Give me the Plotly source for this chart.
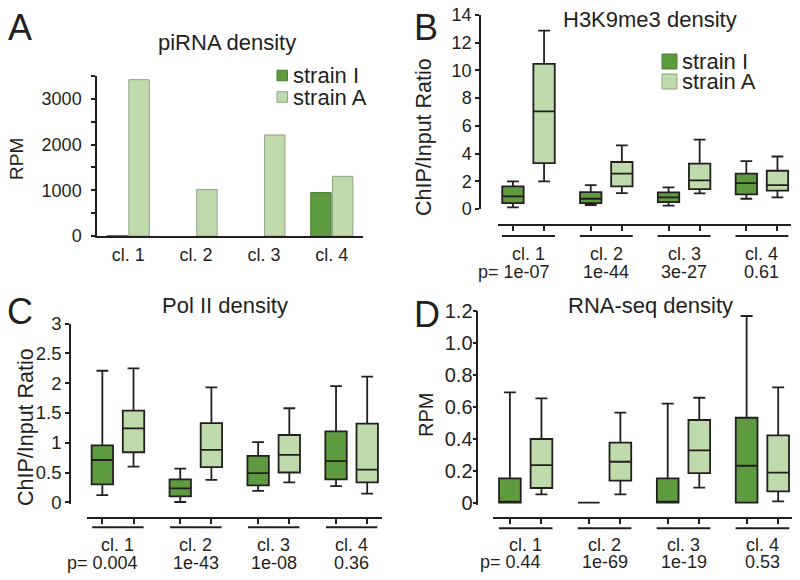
import plotly.graph_objects as go

W, H = 800, 580

# ---------------- data ----------------
clusters = ["cl. 1", "cl. 2", "cl. 3", "cl. 4"]
strain_names = ["strain I", "strain A"]

# Panel A: piRNA density (RPM)
pirna_I = [12, 0, 0, 950]
pirna_A = [3420, 1015, 2210, 1305]

# Panel B: H3K9me3 density (ChIP/Input ratio), box statistics
h3_I_low = [0.12, 0.29, 0.24, 0.74]
h3_I_q1 = [0.43, 0.43, 0.50, 1.06]
h3_I_med = [0.91, 0.74, 0.84, 1.87]
h3_I_q3 = [1.63, 1.22, 1.20, 2.55]
h3_I_high = [1.99, 1.73, 1.56, 3.46]
h3_A_low = [1.99, 1.15, 1.13, 0.84]
h3_A_q1 = [3.31, 1.63, 1.44, 1.32]
h3_A_med = [7.04, 2.55, 2.07, 1.73]
h3_A_q3 = [10.47, 3.39, 3.27, 2.76]
h3_A_high = [12.87, 4.59, 5.00, 3.79]
h3_p = ["1e-07", "1e-44", "3e-27", "0.61"]

# Panel C: Pol II density (ChIP/Input ratio)
pol_I_low = [0.12, 0.005, 0.19, 0.27]
pol_I_q1 = [0.30, 0.10, 0.285, 0.386]
pol_I_med = [0.71, 0.235, 0.49, 0.69]
pol_I_q3 = [0.957, 0.386, 0.78, 1.19]
pol_I_high = [2.21, 0.565, 1.01, 1.95]
pol_A_low = [0.60, 0.375, 0.335, 0.145]
pol_A_q1 = [0.84, 0.59, 0.50, 0.335]
pol_A_med = [1.24, 0.88, 0.795, 0.55]
pol_A_q3 = [1.54, 1.33, 1.13, 1.32]
pol_A_high = [2.25, 1.93, 1.58, 2.11]
pol_p = ["0.004", "1e-43", "1e-08", "0.36"]

# Panel D: RNA-seq density (RPM)
rna_I_low = [0, 0, 0, 0]
rna_I_q1 = [0, 0, 0, 0]
rna_I_med = [0, 0, 0, 0.231]
rna_I_q3 = [0.152, 0, 0.152, 0.531]
rna_I_high = [0.69, 0, 0.619, 1.167]
rna_A_low = [0.052, 0.052, 0.094, 0.008]
rna_A_q1 = [0.092, 0.1375, 0.185, 0.071]
rna_A_med = [0.235, 0.256, 0.327, 0.1875]
rna_A_q3 = [0.398, 0.375, 0.517, 0.421]
rna_A_high = [0.652, 0.5625, 0.656, 0.721]
rna_p = ["0.44", "1e-69", "1e-19", "0.53"]

# ---------------- style ----------------
FONT = "Liberation Sans, Arial, Helvetica, sans-serif"
INK = "#231f20"
DARK = "#5e9b3f"
LIGHT = "#bfdaab"
DARK_EDGE = "#4c7f33"
LIGHT_EDGE = "#8fa386"
BOX_OFFSET = 0.2     # half distance between the two boxes of a cluster (category units)
BOX_WIDTH = 0.275

def px(x):
    return x / W

def py(y):
    return 1 - y / H

idx = list(range(len(clusters)))
box_offsets = [-BOX_OFFSET, BOX_OFFSET]

fig = go.Figure()

# ---- Panel A bars (no outline drawn for empty bars) ----
for name, vals, col, edge in ((strain_names[0], pirna_I, DARK, DARK_EDGE),
                              (strain_names[1], pirna_A, LIGHT, LIGHT_EDGE)):
    fig.add_trace(go.Bar(x=clusters, y=vals, name=name,
                         marker=dict(color=col, line=dict(color=edge, width=[1 if v > 0 else 0 for v in vals])),
                         xaxis="x", yaxis="y", showlegend=False, hoverinfo="skip"))

def add_boxes(xa, ya, statsI, statsA):
    for name, st, col, off in ((strain_names[0], statsI, DARK, box_offsets[0]),
                               (strain_names[1], statsA, LIGHT, box_offsets[1])):
        low, q1, med, q3, high = st
        fig.add_trace(go.Box(x=[i + off for i in idx], lowerfence=low, q1=q1, median=med, q3=q3,
                             upperfence=high, width=BOX_WIDTH,
                             name=name, fillcolor=col,
                             line=dict(color=INK, width=1.8), whiskerwidth=0.55,
                             boxpoints=False, showlegend=False, xaxis=xa, yaxis=ya,
                             hoverinfo="skip"))

add_boxes("x2", "y2", (h3_I_low, h3_I_q1, h3_I_med, h3_I_q3, h3_I_high),
          (h3_A_low, h3_A_q1, h3_A_med, h3_A_q3, h3_A_high))
add_boxes("x3", "y3", (pol_I_low, pol_I_q1, pol_I_med, pol_I_q3, pol_I_high),
          (pol_A_low, pol_A_q1, pol_A_med, pol_A_q3, pol_A_high))
add_boxes("x4", "y4", (rna_I_low, rna_I_q1, rna_I_med, rna_I_q3, rna_I_high),
          (rna_A_low, rna_A_q1, rna_A_med, rna_A_q3, rna_A_high))

def yax(rng, top, bottom, xpos, fs, standoff=0, **kw):
    d = dict(range=rng, domain=[py(bottom), py(top)], anchor="free", position=px(xpos),
             showline=True, linecolor=INK, linewidth=1.5, ticks="outside", ticklen=4,
             tickwidth=1.5, tickcolor=INK, tickfont=dict(size=fs, color=INK, family=FONT),
             ticklabelstandoff=standoff, automargin=False,
             showgrid=False, zeroline=False, fixedrange=True)
    d.update(kw)
    return d

def xax(left, right, rng, liney):
    tv = sorted(i + o for i in idx for o in box_offsets)
    return dict(domain=[px(left), px(right)], range=rng, anchor="free", position=py(liney),
                showline=True, linecolor=INK, linewidth=2, ticks="outside", ticklen=5,
                tickwidth=1.5, tickcolor=INK, tickvals=tv, showticklabels=False,
                automargin=False, showgrid=False, zeroline=False, fixedrange=True)

layout = dict(
    width=W, height=H, margin=dict(l=0, r=0, t=0, b=0, pad=0, autoexpand=False),
    paper_bgcolor="white", plot_bgcolor="white",
    font=dict(family=FONT, color=INK),
    barmode="group", bargap=0.36, bargroupgap=0.06,
    boxmode="overlay",
    showlegend=False,
)

# Panel A axes
layout["xaxis"] = dict(domain=[px(97), px(363)], range=[-0.46, 3.46], anchor="y", showline=True,
                       linecolor=INK, linewidth=1.5, ticks="", tickfont=dict(size=18, color=INK),
                       ticklabelstandoff=2,
                       automargin=False, showgrid=False, zeroline=False, fixedrange=True)
layout["yaxis"] = yax([0, 3500], 76, 236, 97, 18, standoff=6, anchor="x", dtick=1000, tick0=0,
                      minor=dict(dtick=500, tick0=0, ticks="outside", ticklen=4, tickwidth=1.5, tickcolor=INK))
del layout["yaxis"]["position"]

# Panel B
layout["xaxis2"] = xax(498, 791, [-0.392, 3.374], 225)
layout["yaxis2"] = yax([0, 14], 15, 209, 480, 18, dtick=2, tick0=0)
# Panel C
layout["xaxis3"] = xax(87, 382, [-0.397, 3.39], 517.7)
layout["yaxis3"] = yax([-0.034, 3], 323.7, 504.3, 70, 18.5, tickvals=[0, 0.5, 1, 1.5, 2, 2.5, 3],
                       ticktext=["0", "0.5", "1", "1.5", "2", "2.5", "3"])
# Panel D
layout["xaxis4"] = xax(493, 792, [-0.414, 3.375], 518.3)
layout["yaxis4"] = yax([-0.0125, 1.2], 310.7, 504.7, 477.3, 20, standoff=-4,
                       tickvals=[0, 0.2, 0.4, 0.6, 0.8, 1.0, 1.2],
                       ticktext=["0", "0.2", "0.4", "0.6", "0.8", "1.0", "1.2"])

fig.update_layout(**layout)

ann = []
shapes = []

def text(x, y, s, size, xref="paper", **kw):
    d = dict(x=x, y=y, xref=xref, yref="paper", text=s, showarrow=False,
             font=dict(size=size, color=INK, family=FONT), xanchor="center", yanchor="middle")
    d.update(kw)
    ann.append(d)

# panel letters
for letter, x, y in (("A", 20, 28), ("B", 426, 27), ("C", 20, 311), ("D", 427, 314)):
    text(px(x), py(y), letter, 36)

# titles
text(px(227), py(42), "piRNA density", 22)
text(px(650), py(19), "H3K9me3 density", 22)
text(px(225), py(305), "Pol II density", 22)
text(px(650), py(305), "RNA-seq density", 22)

# y axis titles
text(px(17), py(159), "RPM", 19, textangle=-90)
text(px(424), py(137), "ChIP/Input Ratio", 21.5, textangle=-90)
text(px(26), py(427), "ChIP/Input Ratio", 21.5, textangle=-90)
text(px(426), py(415), "RPM", 20, textangle=-90)

CW = {"0": .556, "1": .556, "2": .556, "3": .556, "4": .556, "5": .556, "6": .556,
      "7": .556, "8": .556, "9": .556, "e": .556, "-": .333, ".": .278}

def width(s, size):
    return sum(CW.get(c, .556) for c in s) * size

# cluster labels, underlines
def bottom(xa, ulY, clY, pY, pvals, half=0.34, fs=18):
    for i, c in enumerate(clusters):
        shapes.append(dict(type="line", xref=xa, yref="paper", x0=i - half, x1=i + half,
                           y0=py(ulY), y1=py(ulY), line=dict(color=INK, width=2)))
        text(i, py(clY), c, fs, xref=xa)
        if i == 0:
            text(i, py(pY), "p= " + pvals[i], fs, xref=xa, xanchor="right",
                 xshift=width(pvals[i], fs) / 2)
        else:
            text(i, py(pY), pvals[i], fs, xref=xa)

bottom("x2", 236, 253.5, 272, h3_p)
bottom("x3", 527.3, 545, 563, pol_p, half=0.33)
bottom("x4", 528.3, 545, 562, rna_p)

# legends (manual)
def legend(x0, ys, sw, fs):
    for (name, col, edge), yc in zip(((strain_names[0], DARK, DARK_EDGE), (strain_names[1], LIGHT, LIGHT_EDGE)), ys):
        shapes.append(dict(type="rect", xref="paper", yref="paper", x0=px(x0), x1=px(x0 + sw),
                           y0=py(yc + sw / 2), y1=py(yc - sw / 2), fillcolor=col,
                           line=dict(color=edge, width=1)))
        text(px(x0 + sw + 3), py(yc), name, fs, xanchor="left")

legend(277, (75.5, 97), 10.5, 22)
legend(662, (61.5, 81.5), 15, 22)

fig.update_layout(annotations=ann, shapes=shapes)
fig.write_html("out.html", config={"displayModeBar": False},
               post_script="document.body.style.margin='0';document.body.style.padding='0';"
                           "document.body.style.overflow='hidden';")
